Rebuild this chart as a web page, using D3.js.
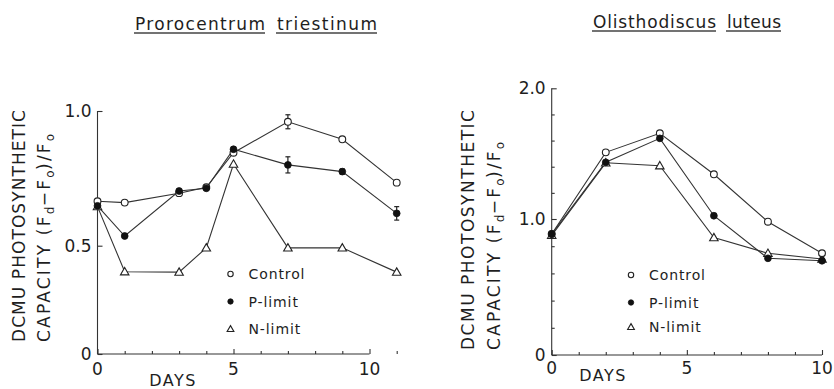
<!DOCTYPE html>
<html><head><meta charset="utf-8">
<script src="https://cdn.jsdelivr.net/npm/d3@7"></script>
<style>
body{margin:0;background:#fff;}
svg text{font-family:"DejaVu Sans",sans-serif;fill:#1e1e1e;}
</style></head>
<body><svg id="c" width="834" height="389"></svg>
<script>
// ---- data ----
const leftTitle = ["Prorocentrum", "triestinum"];
const rightTitle = ["Olisthodiscus", "luteus"];
const seriesNames = ["Control", "P-limit", "N-limit"];

const leftDays = [0, 1, 3, 4, 5, 7, 9, 11];
const leftControl = [0.665, 0.66, 0.695, 0.717, 0.845, 0.96, 0.895, 0.734];
const leftPlimit  = [0.648, 0.536, 0.703, 0.713, 0.858, 0.80, 0.775, 0.62];
const leftNlimit  = [0.645, 0.38, 0.378, 0.49, 0.803, 0.49, 0.49, 0.378];
const leftControlErr = [0, 0, 0, 0, 0, 0.026, 0, 0];
const leftPlimitErr  = [0, 0, 0, 0, 0, 0.03, 0.01, 0.025];
const leftNlimitErr  = [0, 0, 0, 0, 0, 0, 0, 0];
const leftYTicks = [0, 0.5, 1.0];
const leftYLabels = ["0", "0.5", "1.0"];
const leftXTicks = [0, 1, 2, 3, 4, 5, 6, 7, 8, 9, 10, 11];
const leftXLabels = [0, 5, 10];

const rightDays = [0, 2, 4, 6, 8, 10];
const rightControl = [0.89, 1.51, 1.656, 1.342, 0.98, 0.748];
const rightPlimit  = [0.89, 1.434, 1.617, 1.025, 0.711, 0.693];
const rightNlimit  = [0.88, 1.43, 1.408, 0.863, 0.748, 0.706];
const rightYTicks = [0, 1.0, 2.0];
const rightYLabels = ["0", "1.0", "2.0"];
const rightYMinor = [0.2, 0.4, 0.6, 0.8, 1.2, 1.4, 1.6, 1.8];
const rightXTicks = [0, 1, 2, 3, 4, 5, 6, 7, 8, 9, 10];
const rightXLabels = [0, 5, 10];

const yLabel1 = "DCMU PHOTOSYNTHETIC";
const xLabel = "DAYS";

// ---- drawing ----
const svg = d3.select("#c");

function title(words, xs, widths, base) {
  words.forEach((w, i) => {
    svg.append("text").attr("x", xs[i]).attr("y", base)
      .attr("font-size", 17).attr("textLength", widths[i]).attr("lengthAdjust", "spacing").text(w);
    svg.append("line").attr("x1", xs[i] - 1).attr("x2", xs[i] + widths[i])
      .attr("y1", base + 3).attr("y2", base + 3).attr("stroke", "#444").attr("stroke-width", 1.3);
  });
}
title(leftTitle, [135, 277], [130, 100], 30);
title(rightTitle, [593, 727], [123, 54], 28);

function yLabel(bx1, bx2, ystart, len1) {
  svg.append("text").attr("transform", `translate(${bx1},${ystart}) rotate(-90)`)
    .attr("font-size", 17).attr("textLength", len1).attr("lengthAdjust", "spacing").text(yLabel1);
  const t = svg.append("text").attr("transform", `translate(${bx2},${ystart}) rotate(-90)`)
    .attr("font-size", 17).attr("letter-spacing", 2.2);
  t.append("tspan").text("CAPACITY (F");
  t.append("tspan").attr("font-size", 12).attr("dy", 4).attr("letter-spacing", 0.5).text("d");
  t.append("tspan").attr("dy", -4).text("\u2212F");
  t.append("tspan").attr("font-size", 12).attr("dy", 4).attr("letter-spacing", 0.5).text("o");
  t.append("tspan").attr("dy", -4).text(")/F");
  t.append("tspan").attr("font-size", 12).attr("dy", 4).text("o");
}
yLabel(25, 50, 342, 232);
yLabel(473.5, 500, 350, 240);

function panel(cfg) {
  const x = d3.scaleLinear().domain(cfg.xDomain).range(cfg.xRange);
  const y = d3.scaleLinear().domain(cfg.yDomain).range(cfg.yRange);
  const g = svg.append("g");

  // x axis
  const xa = g.append("g").attr("transform", `translate(0,${cfg.yRange[0]})`)
    .call(d3.axisBottom(x).tickValues(cfg.xTicks).tickSizeInner(-3).tickSizeOuter(0).tickFormat(""));
  xa.selectAll(".tick line").attr("y2", d => cfg.xLabels.includes(d) ? -5 : -3);
  xa.select(".domain").attr("d", `M${cfg.xRange[0]},0H${cfg.xRange[1]}`);
  cfg.xLabels.forEach(v => {
    g.append("text").attr("x", x(v)).attr("y", cfg.yRange[0] + cfg.xLabelY)
      .attr("text-anchor", "middle").attr("font-size", 17).text(String(v));
  });

  // y axis
  const allY = cfg.yTicks.concat(cfg.yMinor || []);
  const ya = g.append("g").attr("transform", `translate(${cfg.xRange[0]},0)`)
    .call(d3.axisLeft(y).tickValues(allY).tickSizeInner(-4).tickSizeOuter(0).tickFormat(""));
  ya.selectAll(".tick line").attr("x2", d => cfg.yTicks.includes(d) ? 5 : 3);
  ya.select(".domain").attr("d", `M0,${y(cfg.yDomain[cfg.yDomain.length - 1])}V${cfg.yRange[0]}`);
  cfg.yTicks.forEach((v, k) => {
    g.append("text").attr("x", cfg.xRange[0] - 6).attr("y", y(v) + 6)
      .attr("text-anchor", "end").attr("font-size", 17).text(cfg.yLabels[k]);
  });
  g.selectAll(".domain, .tick line").attr("stroke", "#333").attr("stroke-width", 1.1);

  g.append("text").attr("x", cfg.daysX).attr("y", cfg.daysY).attr("font-size", 16)
    .attr("text-anchor", "middle").attr("letter-spacing", 1.5).text(xLabel);

  const line = d3.line().x(d => x(d[0])).y(d => y(d[1]));
  const order = [2, 0, 1];
  order.forEach(si => {
    const vals = cfg.series[si];
    const pts = cfg.days.map((d, i) => [d, vals[i]]);
    g.append("path").attr("d", line(pts)).attr("fill", "none").attr("stroke", "#333").attr("stroke-width", 1.1);
  });
  order.forEach(si => {
    const vals = cfg.series[si];
    const errs = cfg.errs ? cfg.errs[si] : null;
    cfg.days.forEach((d, i) => {
      const cx = x(d), cy = y(vals[i]);
      if (errs && errs[i] > 0) {
        const y1 = y(vals[i] + errs[i]), y2 = y(vals[i] - errs[i]);
        g.append("line").attr("x1", cx).attr("x2", cx).attr("y1", y1).attr("y2", y2).attr("stroke", "#222").attr("stroke-width", 1.2);
        [y1, y2].forEach(yy => g.append("line").attr("x1", cx - 2.5).attr("x2", cx + 2.5).attr("y1", yy).attr("y2", yy).attr("stroke", "#222").attr("stroke-width", 1.2));
      }
      drawMarker(g, si, cx, cy, 3.4);
    });
  });

  // legend
  seriesNames.forEach((nm, i) => {
    const ly = cfg.legendY[i];
    drawMarker(g, i, cfg.legendX, ly, 2.7);
    g.append("text").attr("x", cfg.legendX + 18).attr("y", ly + 5).attr("font-size", 14)
      .attr("letter-spacing", 0.9).text(nm);
  });
}

function drawMarker(g, si, cx, cy, r) {
  if (si === 0) {
    g.append("circle").attr("cx", cx).attr("cy", cy).attr("r", r).attr("fill", "#fff").attr("stroke", "#222").attr("stroke-width", 1.1);
  } else if (si === 1) {
    g.append("circle").attr("cx", cx).attr("cy", cy).attr("r", r).attr("fill", "#111").attr("stroke", "#111").attr("stroke-width", 0.8);
  } else {
    const s = r * 1.25;
    g.append("path").attr("d", `M${cx},${cy - s}L${cx + s},${cy + s * 0.75}L${cx - s},${cy + s * 0.75}Z`)
      .attr("fill", "#fff").attr("stroke", "#222").attr("stroke-width", 1.1);
  }
}

panel({
  xDomain: [0, 10], xRange: [97.5, 369.5],
  yDomain: [0, 0.5, 1.0], yRange: [354, 245.7, 111],
  xTicks: leftXTicks, xLabels: leftXLabels, yTicks: leftYTicks, yLabels: leftYLabels,
  xLabelY: 21, daysX: 173, daysY: 386,
  days: leftDays, series: [leftControl, leftPlimit, leftNlimit],
  errs: [leftControlErr, leftPlimitErr, leftNlimitErr],
  legendX: 230.5, legendY: [274, 301.5, 329]
});
panel({
  xDomain: [0, 10], xRange: [551.7, 822],
  yDomain: [0, 1.0, 2.0], yRange: [355, 219, 88.3],
  xTicks: rightXTicks, xLabels: rightXLabels, yTicks: rightYTicks, yMinor: rightYMinor, yLabels: rightYLabels,
  xLabelY: 18.5, daysX: 603, daysY: 381,
  days: rightDays, series: [rightControl, rightPlimit, rightNlimit],
  legendX: 631, legendY: [275, 302.5, 327]
});
</script></body></html>
